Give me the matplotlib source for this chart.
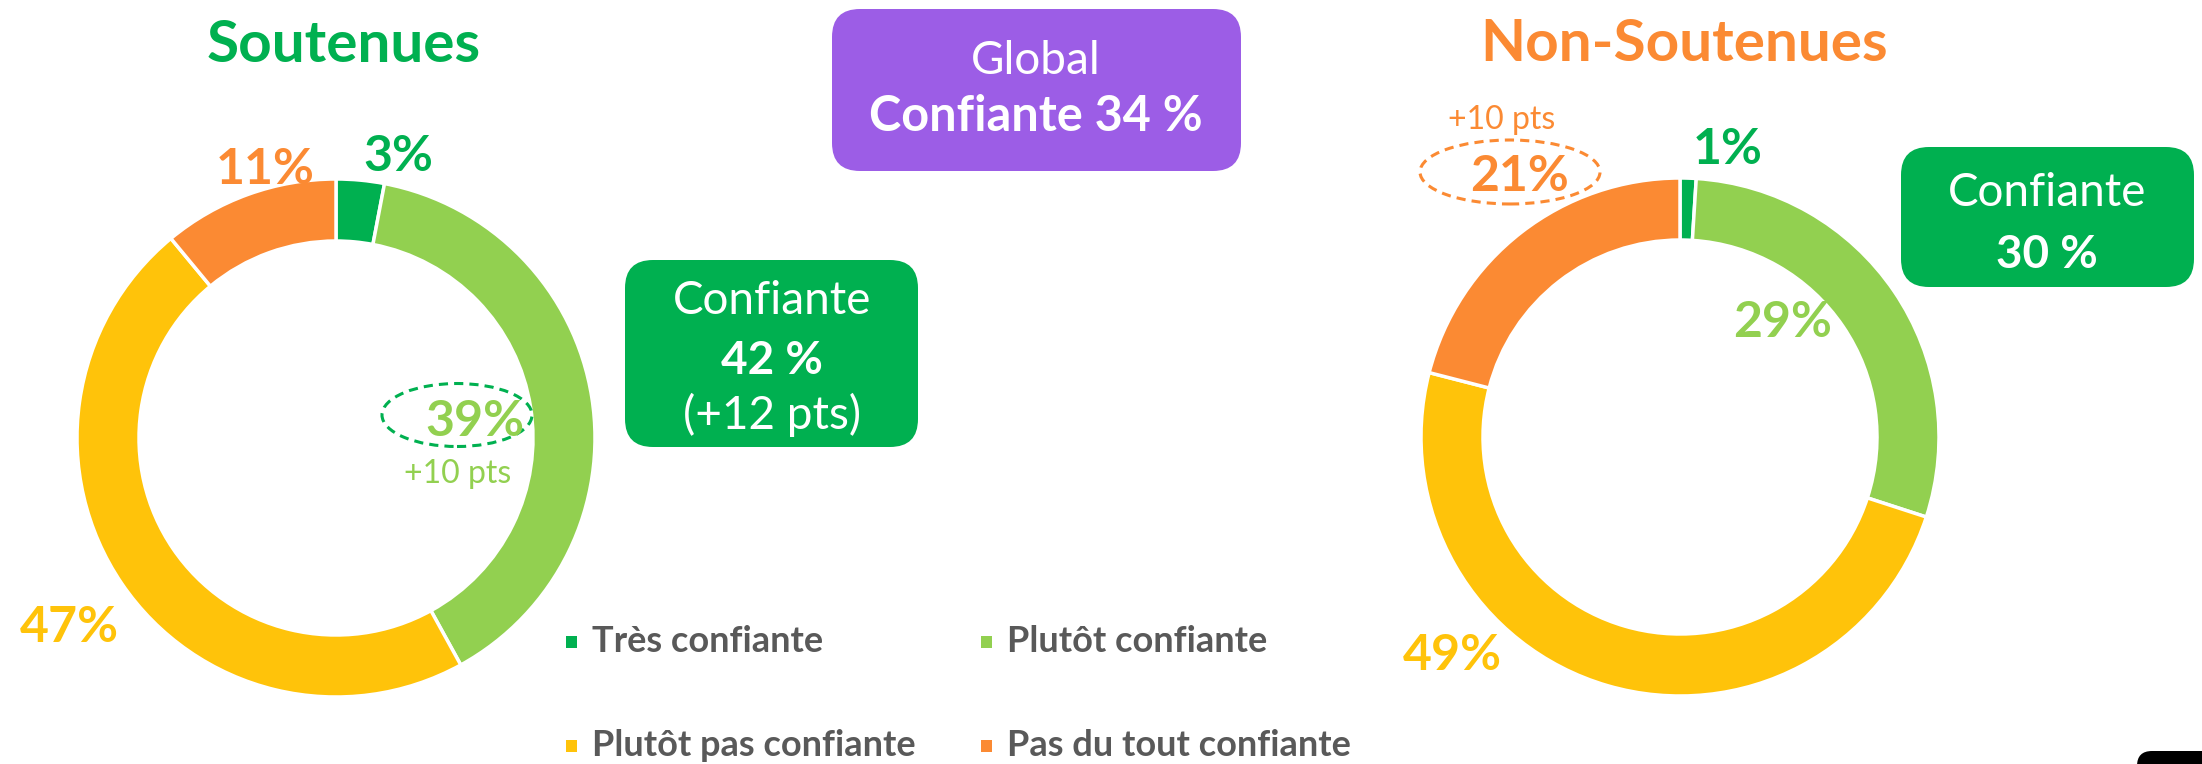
import matplotlib
matplotlib.use("Agg")
import matplotlib.pyplot as plt
from matplotlib.patches import FancyBboxPatch, Ellipse, Rectangle

# ----------------------------
# Daten
# ----------------------------
categories = ["Très confiante", "Plutôt confiante", "Plutôt pas confiante", "Pas du tout confiante"]
colors = ["#00B050", "#92D050", "#FFC30A", "#FB8A33"]

soutenues = [3, 39, 47, 11]
non_soutenues = [1, 29, 49, 21]

confiante_sout = 42
confiante_non = 30
confiante_global = 34
delta_box_sout = "+12 pts"
delta_sout = "+10 pts"   # Plutôt confiante
delta_non = "+10 pts"    # Pas du tout confiante

W, H = 2202, 764
FONT = "Lato"
GRAY = "#595959"


def Y(px):
    # Pixelkoordinate von oben -> Datenkoordinate
    return H - px


fig = plt.figure(figsize=(W / 100, H / 100), dpi=100)
ax = fig.add_axes([0, 0, 1, 1])

# ----------------------------
# Donuts
# ----------------------------
R = 259
ring = 62
for vals, cx, cy in [(soutenues, 336, 438), (non_soutenues, 1680, 437)]:
    ax.pie(vals, colors=colors, radius=R, center=(cx, Y(cy)),
           startangle=90, counterclock=False,
           wedgeprops=dict(width=ring, edgecolor="white", linewidth=2.5))

# Prozentlabels
label_pos_sout = [(398, 171), (475, 436), (69, 642), (265, 184)]
label_pos_non = [(1728, 164), (1783, 337), (1452, 670), (1520, 191)]
for vals, pos in [(soutenues, label_pos_sout), (non_soutenues, label_pos_non)]:
    for v, (x, y), c in zip(vals, pos, colors):
        ax.text(x, Y(y), f"{v}%", color=c, fontsize=36, fontweight="bold",
                family=FONT, ha="center", va="baseline")

# gestrichelte Ellipsen + Deltas
ax.add_patch(Ellipse((457, Y(415)), 150, 63, fill=False, edgecolor=colors[0],
                     linestyle=(0, (3, 2)), linewidth=2.2))
ax.text(458, Y(483), delta_sout, color=colors[1], fontsize=23,
        family=FONT, ha="center", va="baseline")

ax.add_patch(Ellipse((1510, Y(172)), 180, 64, fill=False, edgecolor=colors[3],
                     linestyle=(0, (3, 2)), linewidth=2.2))
ax.text(1502, Y(129), delta_non, color=colors[3], fontsize=23,
        family=FONT, ha="center", va="baseline")

# ----------------------------
# Titel
# ----------------------------
ax.text(344, Y(62), "Soutenues", color="#00B050", fontsize=42, fontweight="bold",
        family=FONT, ha="center", va="baseline")
ax.text(1684, Y(61), "Non-Soutenues", color="#FB8A33", fontsize=42, fontweight="bold",
        family=FONT, ha="center", va="baseline")

# ----------------------------
# Boxen
# ----------------------------
def box(x0, y0, x1, y1, color):
    ax.add_patch(FancyBboxPatch((x0, Y(y1)), x1 - x0, y1 - y0,
                                boxstyle="round,pad=0,rounding_size=28",
                                facecolor=color, edgecolor="none"))


box(832, 9, 1241, 171, "#9C5DE6")
ax.text(1036, Y(74), "Global", color="white", fontsize=33,
        family=FONT, ha="center", va="baseline")
ax.text(1036, Y(131), f"Confiante {confiante_global} %", color="white", fontsize=35,
        fontweight="bold", family=FONT, ha="center", va="baseline")

box(625, 260, 918, 447, "#00B050")
ax.text(772, Y(314), "Confiante", color="white", fontsize=33,
        family=FONT, ha="center", va="baseline")
ax.text(772, Y(374), f"{confiante_sout} %", color="white", fontsize=33,
        fontweight="bold", family=FONT, ha="center", va="baseline")
ax.text(772, Y(429), f"({delta_box_sout})", color="white", fontsize=33,
        family=FONT, ha="center", va="baseline")

box(1901, 147, 2194, 287, "#00B050")
ax.text(2047, Y(206), "Confiante", color="white", fontsize=33,
        family=FONT, ha="center", va="baseline")
ax.text(2047, Y(268), f"{confiante_non} %", color="white", fontsize=33,
        fontweight="bold", family=FONT, ha="center", va="baseline")

# ----------------------------
# Legende
# ----------------------------
leg_x = [566, 981, 566, 981]
leg_y = [652, 652, 756, 756]
for cat, c, x, y in zip(categories, colors, leg_x, leg_y):
    ax.add_patch(Rectangle((x, Y(y - 4)), 11, 12, facecolor=c, edgecolor="none"))
    ax.text(x + 26, Y(y), cat, color=GRAY, fontsize=26, fontweight="bold",
            family=FONT, ha="left", va="baseline")

# schwarze Ecke unten rechts
ax.add_patch(FancyBboxPatch((2137, Y(790)), 120, 39,
                            boxstyle="round,pad=0,rounding_size=15",
                            facecolor="black", edgecolor="none"))

ax.set_xlim(0, W)
ax.set_ylim(0, H)
ax.set_aspect("equal")
ax.axis("off")

plt.savefig("out.png", dpi=100, facecolor="white")
